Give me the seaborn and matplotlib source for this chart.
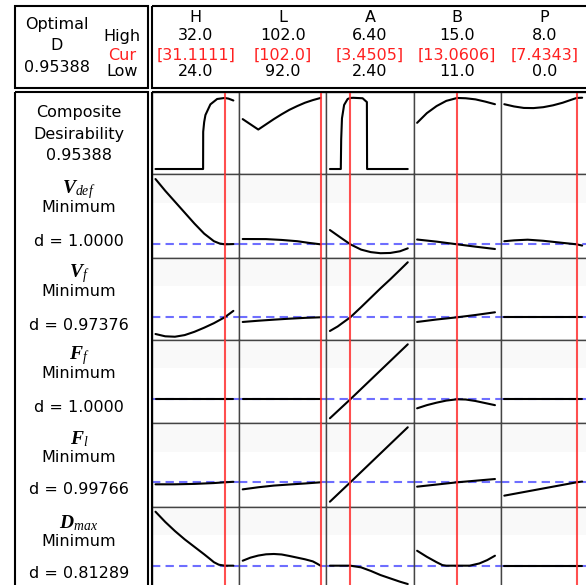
import pandas as pd
import matplotlib
matplotlib.use("Agg")
import matplotlib.pyplot as plt
import seaborn as sns
from matplotlib.patches import Rectangle

# factor settings (header of the optimizer plot)
factors = ["H", "L", "A", "B", "P"]
f_low = [24.0, 92.0, 2.40, 11.0, 0.0]
f_high = [32.0, 102.0, 6.40, 15.0, 8.0]
f_cur = [31.1111, 102.0, 3.4505, 13.0606, 7.4343]
high_txt = ["32.0", "102.0", "6.40", "15.0", "8.0"]
cur_txt = ["[31.1111]", "[102.0]", "[3.4505]", "[13.0606]", "[7.4343]"]
low_txt = ["24.0", "92.0", "2.40", "11.0", "0.0"]

optimal_d = "0.95388"

# responses (rows below the composite row)
resp_sym = [r"$\mathbf{V}_{def}$", r"$\mathbf{V}_{f}$", r"$\mathbf{F}_{f}$",
            r"$\mathbf{F}_{l}$", r"$\mathbf{D}_{max}$"]
resp_goal = ["Minimum"] * 5
resp_d = ["1.0000", "0.97376", "1.0000", "0.99766", "0.81289"]
# predicted response at the optimum, relative units (0 = bottom of cell, 1 = top)
resp_cur = [0.163, 0.277, 0.286, 0.294, 0.293]

# curves: (factor value, response) pairs per row and factor
composite = {
    "H": [(24, 0), (28.89, 0), (28.9, 0.5), (29.0, 0.63), (29.13, 0.725), (29.64, 0.868),
          (30.33, 0.94), (31.11, 0.954), (31.5, 0.945), (32, 0.92)],
    "L": [(92, 0.67), (93, 0.6), (94, 0.53), (95, 0.6), (96, 0.67), (97, 0.735),
          (98, 0.795), (99, 0.845), (100, 0.89), (101, 0.925), (102, 0.954)],
    "A": [(2.4, 0), (2.96, 0), (2.98, 0.4), (3.02, 0.68), (3.13, 0.86), (3.31, 0.94),
          (3.45, 0.954), (3.6, 0.956), (4.08, 0.95), (4.25, 0.91), (4.3, 0.9),
          (4.31, 0), (6.4, 0)],
    "B": [(11, 0.62), (11.5, 0.75), (12, 0.845), (12.5, 0.915), (13.06, 0.954),
          (13.5, 0.95), (14, 0.935), (14.5, 0.905), (15, 0.87)],
    "P": [(0, 0.87), (1, 0.84), (2, 0.82), (3, 0.818), (4, 0.83), (5, 0.855),
          (6, 0.89), (7, 0.935), (7.43, 0.954), (8, 0.957)],
}
vdef = {
    "H": [(24, 0.94), (25, 0.8), (26, 0.67), (27, 0.54), (28, 0.41), (29, 0.29),
          (30, 0.2), (30.6, 0.172), (31.11, 0.163), (32, 0.166)],
    "L": [(92, 0.226), (95, 0.225), (97, 0.215), (99, 0.2), (100.5, 0.18), (102, 0.163)],
    "A": [(2.4, 0.333), (3.0, 0.235), (3.45, 0.163), (4.0, 0.1), (4.5, 0.07),
          (5.0, 0.057), (5.5, 0.06), (6.0, 0.08), (6.4, 0.115)],
    "B": [(11, 0.22), (12, 0.195), (13.06, 0.163), (14, 0.135), (15, 0.107)],
    "P": [(0, 0.2), (1, 0.21), (2.4, 0.218), (4, 0.205), (6, 0.18), (7.43, 0.163),
          (8, 0.148)],
}
vf = {
    "H": [(24, 0.073), (25, 0.045), (26, 0.04), (27, 0.06), (28, 0.1), (29, 0.15),
          (30, 0.205), (31.11, 0.277), (32, 0.355)],
    "L": [(92, 0.22), (94, 0.235), (96, 0.248), (98, 0.26), (100, 0.27), (102, 0.277)],
    "A": [(2.4, 0.11), (2.8, 0.165), (3.0, 0.2), (3.45, 0.277), (4, 0.4), (4.5, 0.515),
          (5, 0.63), (5.5, 0.74), (6, 0.855), (6.4, 0.948)],
    "B": [(11, 0.22), (12, 0.25), (13.06, 0.277), (14, 0.305), (15, 0.338)],
    "P": [(0, 0.277), (4, 0.277), (8, 0.277)],
}
ff = {
    "H": [(24, 0.286), (28, 0.286), (32, 0.286)],
    "L": [(92, 0.286), (97, 0.286), (102, 0.286)],
    "A": [(2.4, 0.057), (3.45, 0.286), (6.4, 0.948)],
    "B": [(11, 0.177), (11.5, 0.215), (12, 0.245), (12.5, 0.27), (13.06, 0.286),
          (13.5, 0.283), (14, 0.265), (14.5, 0.24), (15, 0.215)],
    "P": [(0, 0.286), (4, 0.286), (8, 0.286)],
}
fl = {
    "H": [(24, 0.27), (26, 0.27), (28, 0.275), (30, 0.285), (31.11, 0.294), (32, 0.3)],
    "L": [(92, 0.21), (94, 0.235), (96, 0.255), (98, 0.268), (100, 0.28), (102, 0.294)],
    "A": [(2.4, 0.063), (3.45, 0.294), (6.4, 0.949)],
    "B": [(11, 0.242), (13.06, 0.294), (15, 0.333)],
    "P": [(0, 0.135), (7.43, 0.294), (8, 0.303)],
}
dmax = {
    "H": [(24, 0.943), (25, 0.82), (26, 0.71), (27, 0.61), (28, 0.52), (29, 0.43),
          (29.64, 0.37), (30, 0.335), (30.5, 0.305), (31.11, 0.293), (32, 0.293)],
    "L": [(92, 0.353), (93, 0.39), (94, 0.415), (95, 0.43), (96, 0.434), (97, 0.428),
          (98, 0.41), (99, 0.39), (100, 0.37), (101, 0.345), (101.5, 0.32), (102, 0.293)],
    "A": [(2.4, 0.293), (3.0, 0.293), (3.45, 0.293), (4.0, 0.273), (4.5, 0.23),
          (5.0, 0.18), (5.5, 0.14), (6.0, 0.1), (6.4, 0.072)],
    "B": [(11, 0.473), (11.5, 0.4), (12, 0.335), (12.3, 0.3), (12.5, 0.293),
          (13.06, 0.293), (13.7, 0.293), (14.2, 0.32), (14.6, 0.36), (15, 0.413)],
    "P": [(0, 0.293), (4, 0.293), (8, 0.293)],
}
rows = [composite, vdef, vf, ff, fl, dmax]


def main():
    sns.set_style("white")
    plt.rcParams["font.family"] = ["DejaVu Sans"]
    plt.rcParams["text.color"] = "black"
    plt.rcParams["mathtext.fontset"] = "custom"
    plt.rcParams["mathtext.bf"] = "Liberation Serif:bold:italic"
    plt.rcParams["mathtext.it"] = "Liberation Serif:italic"
    plt.rcParams["mathtext.rm"] = "Liberation Serif"

    W, H = 586, 585
    fig = plt.figure(figsize=(W / 100, H / 100), dpi=100)

    def px_axes(x0, y0, x1, y1):
        return fig.add_axes([x0 / W, 1 - y1 / H, (x1 - x0) / W, (y1 - y0) / H])

    row_top = [92, 174, 258, 340, 423, 507]
    row_bot = [174, 258, 340, 423, 507, 590]
    cw = 87.2
    col_left = [152 + cw * i for i in range(5)]

    # long-form table for seaborn
    recs = []
    for r, curves in enumerate(rows):
        for f in factors:
            for x, y in curves[f]:
                recs.append({"row": r, "factor": f, "x": x, "y": y})
    df = pd.DataFrame(recs)

    for r in range(6):
        for c, f in enumerate(factors):
            ax = px_axes(col_left[c], row_top[r], col_left[c] + cw, row_bot[r])
            rng = f_high[c] - f_low[c]
            if r == 0:
                ax.set_ylim(-0.067, 1.034)
            else:
                ax.set_ylim(0, 1)
                ax.axhspan(0.66, 1.0, color="#f9f9f9", lw=0, zorder=0)
            sub = df[(df["row"] == r) & (df["factor"] == f)]
            sns.lineplot(data=sub, x="x", y="y", ax=ax, color="black", lw=1.5,
                         estimator=None, sort=False, zorder=3)
            if r > 0:
                ax.axhline(resp_cur[r - 1], color="#4a4aff", lw=1.5, alpha=0.8,
                           ls=(0, (4, 2.5)), zorder=2)
            ax.axvline(f_cur[c], color="#ff3030", lw=1.5, alpha=0.85, zorder=4)
            ax.set_xlim(f_low[c] - 0.045 * rng, f_high[c] + 0.075 * rng)
            ax.set_xticks([])
            ax.set_yticks([])
            ax.set_xlabel("")
            ax.set_ylabel("")
            for s in ax.spines.values():
                s.set_color("#444444")
                s.set_linewidth(1.0)

    # overlay for boxes and text
    ov = px_axes(0, 0, W, H)
    ov.set_xlim(0, W)
    ov.set_ylim(H, 0)
    ov.axis("off")
    ov.patch.set_alpha(0)
    ov.set_zorder(10)
    for (x0, y0, x1, y1) in [(15, 6, 148, 88), (152, 6, 590, 88),
                             (15, 92, 148, 600), (152, 92, 590, 600)]:
        ov.add_patch(Rectangle((x0, y0), x1 - x0, y1 - y0, fill=False,
                               ec="black", lw=1.5))

    fs = 11.5
    ov.text(57, 24, "Optimal", ha="center", va="center", fontsize=fs)
    ov.text(57, 45, "D", ha="center", va="center", fontsize=fs)
    ov.text(57, 68, optimal_d, ha="center", va="center", fontsize=fs)
    ov.text(122, 36, "High", ha="center", va="center", fontsize=fs)
    ov.text(122, 55, "Cur", ha="center", va="center", fontsize=fs, color="#ff2020")
    ov.text(122, 72, "Low", ha="center", va="center", fontsize=fs)
    for c in range(5):
        cx = col_left[c] + cw / 2
        ov.text(cx, 17, factors[c], ha="center", va="center", fontsize=fs)
        ov.text(cx, 36, high_txt[c], ha="center", va="center", fontsize=fs)
        ov.text(cx, 55, cur_txt[c], ha="center", va="center", fontsize=fs,
                color="#ff2020")
        ov.text(cx, 72, low_txt[c], ha="center", va="center", fontsize=fs)

    lx = 79
    ov.text(lx, 113, "Composite", ha="center", va="center", fontsize=fs)
    ov.text(lx, 134, "Desirability", ha="center", va="center", fontsize=fs)
    ov.text(lx, 155, optimal_d, ha="center", va="center", fontsize=fs)
    for i in range(5):
        top = row_top[i + 1]
        ov.text(lx, top + 16, resp_sym[i], ha="center", va="center", fontsize=14)
        ov.text(lx, top + 34, resp_goal[i], ha="center", va="center", fontsize=fs)
        ov.text(lx, top + 67, "d = " + resp_d[i], ha="center", va="center", fontsize=fs)

    fig.savefig("out.png", dpi=100)
    plt.close(fig)


if __name__ == "__main__":
    main()
